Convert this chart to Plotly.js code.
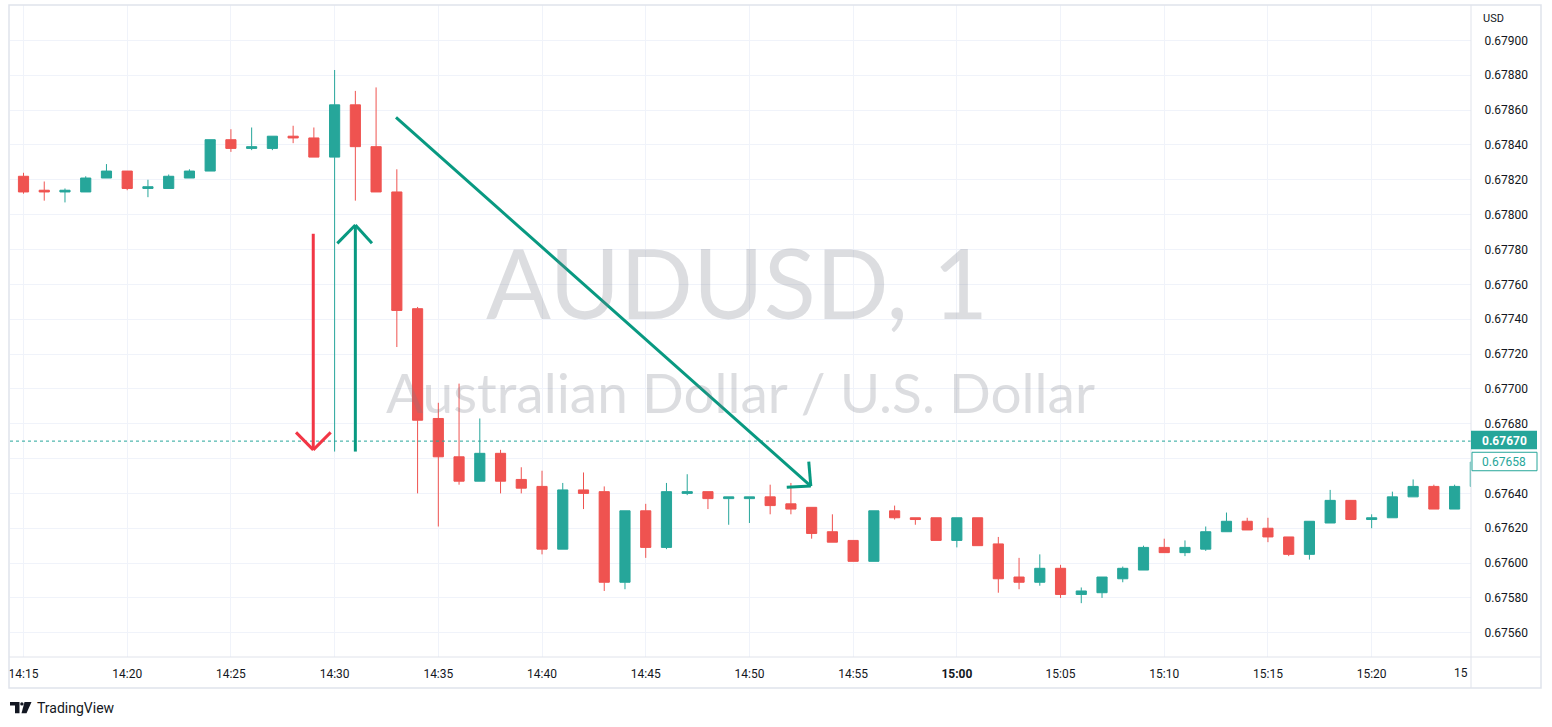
<!DOCTYPE html>
<html>
<head>
<meta charset="utf-8">
<script src="https://cdn.plot.ly/plotly-3.0.1.min.js"></script>
<style>html,body{margin:0;padding:0;background:#fff;}#chart{width:1552px;height:727px;}</style>
</head>
<body>
<div id="chart"></div>
<script>
// ---------- data (AUDUSD, 1 minute) ----------
const DAY = '2023-06-01';
const times = ['14:14','14:15','14:16','14:17','14:18','14:19','14:20','14:21','14:22','14:23',
  '14:24','14:25','14:26','14:27','14:28','14:29','14:30','14:31','14:32','14:33',
  '14:34','14:35','14:36','14:37','14:38','14:39','14:40','14:41','14:42','14:43',
  '14:44','14:45','14:46','14:47','14:48','14:49','14:50','14:51','14:52','14:53',
  '14:54','14:55','14:56','14:57','14:58','14:59','15:00','15:01','15:02','15:03',
  '15:04','15:05','15:06','15:07','15:08','15:09','15:10','15:11','15:12','15:13',
  '15:14','15:15','15:16','15:17','15:18','15:19','15:20','15:21','15:22','15:23',
  '15:24','15:25'];
const open = [0.67824,0.67822,0.67814,0.67813,0.67813,0.67821,0.67825,0.67815,0.67815,0.67821,
  0.67825,0.67843,0.67838,0.67838,0.67845,0.67844,0.67833,0.67863,0.67839,0.67813,
  0.67746,0.67683,0.67661,0.67647,0.67663,0.67648,0.67644,0.67608,0.67642,0.67641,
  0.67589,0.67630,0.67609,0.67640,0.67641,0.67637,0.67637,0.67638,0.67634,0.67632,
  0.67618,0.67613,0.67601,0.67630,0.67626,0.67626,0.67613,0.67626,0.67611,0.67592,
  0.67589,0.67597,0.67582,0.67583,0.67591,0.67596,0.67609,0.67606,0.67608,0.67618,
  0.67624,0.67620,0.67615,0.67605,0.67623,0.67636,0.67625,0.67626,0.67638,0.67644,
  0.67631,0.67644];
const high = [0.67824,0.67824,0.67819,0.67815,0.67822,0.67829,0.67825,0.67820,0.67823,0.67826,
  0.67843,0.67849,0.67850,0.67845,0.67851,0.67850,0.67883,0.67871,0.67873,0.67826,
  0.67747,0.67692,0.67703,0.67683,0.67665,0.67655,0.67653,0.67646,0.67652,0.67644,
  0.67630,0.67634,0.67646,0.67651,0.67641,0.67638,0.67638,0.67645,0.67646,0.67632,
  0.67628,0.67613,0.67630,0.67633,0.67626,0.67626,0.67626,0.67626,0.67615,0.67603,
  0.67605,0.67599,0.67586,0.67592,0.67598,0.67610,0.67614,0.67613,0.67621,0.67629,
  0.67626,0.67626,0.67615,0.67624,0.67642,0.67636,0.67628,0.67641,0.67648,0.67645,
  0.67645,0.67658];
const low = [0.67821,0.67812,0.67808,0.67807,0.67813,0.67821,0.67814,0.67810,0.67815,0.67821,
  0.67825,0.67836,0.67837,0.67837,0.67841,0.67833,0.67664,0.67808,0.67813,0.67724,
  0.67640,0.67621,0.67645,0.67647,0.67640,0.67640,0.67605,0.67608,0.67631,0.67584,
  0.67585,0.67603,0.67608,0.67639,0.67631,0.67622,0.67623,0.67628,0.67628,0.67614,
  0.67612,0.67601,0.67601,0.67625,0.67622,0.67613,0.67609,0.67610,0.67583,0.67585,
  0.67587,0.67580,0.67577,0.67580,0.67589,0.67596,0.67606,0.67604,0.67607,0.67618,
  0.67619,0.67612,0.67604,0.67602,0.67623,0.67625,0.67620,0.67626,0.67638,0.67631,
  0.67631,0.67644];
const close = [0.67821,0.67813,0.67813,0.67814,0.67821,0.67825,0.67815,0.67816,0.67822,0.67825,
  0.67843,0.67838,0.67839,0.67845,0.67844,0.67833,0.67863,0.67839,0.67813,0.67745,
  0.67682,0.67661,0.67647,0.67663,0.67647,0.67643,0.67608,0.67642,0.67640,0.67589,
  0.67630,0.67609,0.67641,0.67641,0.67637,0.67638,0.67638,0.67633,0.67631,0.67617,
  0.67612,0.67601,0.67630,0.67626,0.67625,0.67613,0.67626,0.67610,0.67591,0.67589,
  0.67597,0.67582,0.67584,0.67592,0.67597,0.67609,0.67606,0.67609,0.67618,0.67624,
  0.67619,0.67615,0.67605,0.67624,0.67636,0.67625,0.67626,0.67638,0.67644,0.67631,
  0.67644,0.67658];

// axis ticks
const xTickTimes = ['14:15','14:20','14:25','14:30','14:35','14:40','14:45','14:50','14:55','15:00','15:05','15:10','15:15','15:20'];
const xTickLabels = ['14:15','14:20','14:25','14:30','14:35','14:40','14:45','14:50','14:55','<b>15:00</b>','15:05','15:10','15:15','15:20'];
const yTickVals = [0.67560,0.67580,0.67600,0.67620,0.67640,0.67660,0.67680,0.67700,0.67720,0.67740,0.67760,0.67780,0.67800,0.67820,0.67840,0.67860,0.67880,0.67900];
// 0.67660 is hidden behind the last-price label in the reference
const yTickLabels = ['0.67560','0.67580','0.67600','0.67620','0.67640','','0.67680','0.67700','0.67720','0.67740','0.67760','0.67780','0.67800','0.67820','0.67840','0.67860','0.67880','0.67900'];

// price markers
const markedPrice = 0.67670;   // dotted line + filled label
const lastPrice = 0.67658;     // outlined label

// drawings: [minutes after 14:15, price]
const redArrowShaft = [[13.97,0.67789],[13.97,0.67665]];
const redArrowHead  = [[13.14,0.67675],[13.97,0.67665],[14.81,0.67675]];
const upArrowShaft  = [[16.0,0.67664],[16.0,0.67794]];
const upArrowHead   = [[15.13,0.677835],[16.0,0.67794],[16.8,0.677835]];
const diagShaft     = [[17.96,0.678558],[37.96,0.676442]];
const diagHead      = [[37.86,0.676582],[37.96,0.676442],[36.80,0.676435]];

// ---------- helpers ----------
const TEAL = '#26a69a', RED = '#ef5350';
const W = 1552, H = 727, ML = 10, MR = 81, MT = 5, MB = 70;
const PW = W - ML - MR, PH = H - MT - MB;
const px = v => (v - ML) / PW;
const py = v => (H - MB - v) / PH;
function tm(min) {
  const base = Date.UTC(2023, 5, 1, 14, 15, 0);
  return new Date(base + Math.round(min * 60000)).toISOString().replace('T', ' ').replace('Z', '');
}
const xs = times.map(t => DAY + ' ' + t);

const shapes = [];
function poly(pts, color, width) {
  for (let i = 0; i < pts.length - 1; i++) {
    shapes.push({type: 'line', xref: 'x', yref: 'y',
      x0: tm(pts[i][0]), y0: pts[i][1], x1: tm(pts[i + 1][0]), y1: pts[i + 1][1],
      line: {color: color, width: width}});
  }
}
// dotted price line
shapes.push({type: 'line', xref: 'paper', yref: 'y', x0: 0, x1: 1, y0: markedPrice, y1: markedPrice,
  line: {color: TEAL, width: 1, dash: 'dot'}});
poly(redArrowShaft, '#f23645', 3);
poly(redArrowHead, '#f23645', 3);
poly(upArrowShaft, '#089981', 3);
poly(upArrowHead, '#089981', 3);
poly(diagShaft, '#089981', 3);
poly(diagHead, '#089981', 3);

// frame
const FR = '#e0e3eb';
shapes.push({type: 'rect', xref: 'paper', yref: 'paper', x0: px(9), x1: px(1541), y0: py(688), y1: py(5), line: {color: FR, width: 1.5}});
shapes.push({type: 'line', xref: 'paper', yref: 'paper', x0: px(1471), x1: px(1471), y0: py(688), y1: py(5), line: {color: FR, width: 1}});
shapes.push({type: 'line', xref: 'paper', yref: 'paper', x0: px(9), x1: px(1541), y0: py(657), y1: py(657), line: {color: FR, width: 1}});

// price labels on the scale
shapes.push({type: 'rect', xref: 'paper', yref: 'y', x0: px(1471), x1: px(1537), y0: 0.676653, y1: 0.676760,
  fillcolor: TEAL, line: {width: 0}, layer: 'above'});
shapes.push({type: 'rect', xref: 'paper', yref: 'y', x0: px(1472), x1: px(1537), y0: 0.676530, y1: 0.676636,
  fillcolor: '#ffffff', line: {color: TEAL, width: 1}, layer: 'above'});

// TradingView logo
const logoC = '#131722';
const P = (x, y) => px(x) + ',' + py(y);
shapes.push({type: 'path', xref: 'paper', yref: 'paper', fillcolor: logoC, line: {width: 0},
  path: 'M' + P(10, 702) + ' L' + P(19.5, 702) + ' L' + P(19.5, 713.3) + ' L' + P(15, 713.3) + ' L' + P(15, 705.6) + ' L' + P(10, 705.6) + ' Z'});
shapes.push({type: 'circle', xref: 'paper', yref: 'paper', fillcolor: logoC, line: {width: 0},
  x0: px(20.2), x1: px(23.6), y0: py(705.6), y1: py(702.2)});
shapes.push({type: 'path', xref: 'paper', yref: 'paper', fillcolor: logoC, line: {width: 0},
  path: 'M' + P(24.5, 702) + ' L' + P(31.5, 702) + ' L' + P(26.5, 713.3) + ' L' + P(21.5, 713.3) + ' Z'});

const FONT = 'Roboto, "Open Sans", sans-serif';
const WM = 'rgba(120,123,134,0.26)';
const annotations = [
  {xref: 'paper', yref: 'paper', x: px(737), y: py(281), text: 'AUDUSD, 1', showarrow: false,
    font: {family: 'Lato, "Open Sans", sans-serif', size: 96, color: WM}, xanchor: 'center', yanchor: 'middle'},
  {xref: 'paper', yref: 'paper', x: px(740), y: py(392), text: 'Australian Dollar / U.S. Dollar', showarrow: false,
    font: {family: 'Lato, "Open Sans", sans-serif', size: 55, color: WM}, xanchor: 'center', yanchor: 'middle'},
  {xref: 'paper', yref: 'paper', x: px(1481), y: py(19), text: 'USD', showarrow: false,
    font: {family: FONT, size: 11, color: '#131722'}, xanchor: 'left', yanchor: 'middle'},
  {xref: 'paper', yref: 'y', x: px(1504), y: markedPrice, text: '<b>' + markedPrice.toFixed(5) + '</b>', showarrow: false,
    font: {family: FONT, size: 12, color: '#ffffff'}, xanchor: 'center', yanchor: 'middle'},
  {xref: 'paper', yref: 'y', x: px(1504), y: lastPrice, text: lastPrice.toFixed(5), showarrow: false,
    font: {family: FONT, size: 12, color: TEAL}, xanchor: 'center', yanchor: 'middle'},
  {xref: 'paper', yref: 'paper', x: px(1470), y: py(673), text: '15', showarrow: false,
    font: {family: FONT, size: 12, color: '#131722'}, xanchor: 'right', yanchor: 'middle'},
  {xref: 'paper', yref: 'paper', x: px(35), y: py(708), text: 'TradingView', showarrow: false,
    font: {family: FONT, size: 14, color: '#131722'}, xanchor: 'left', yanchor: 'middle'}
];

const trace = {
  type: 'candlestick', x: xs, open: open, high: high, low: low, close: close,
  increasing: {line: {color: TEAL, width: 1}, fillcolor: TEAL},
  decreasing: {line: {color: RED, width: 1}, fillcolor: RED},
  whiskerwidth: 0, hoverinfo: 'skip', showlegend: false
};

const layout = {
  width: W, height: H,
  margin: {l: ML, r: MR, t: MT, b: MB, pad: 0},
  paper_bgcolor: '#ffffff', plot_bgcolor: '#ffffff',
  showlegend: false,
  font: {family: FONT, size: 12, color: '#131722'},
  xaxis: {
    type: 'date', range: [tm(-0.6509), tm(69.79)],
    tickvals: xTickTimes.map(t => DAY + ' ' + t), ticktext: xTickLabels,
    showgrid: true, gridcolor: '#f0f3fa', gridwidth: 1,
    zeroline: false, showline: false, ticks: 'outside', ticklen: 6, tickcolor: 'rgba(0,0,0,0)',
    tickfont: {family: FONT, size: 12, color: '#131722'},
    rangeslider: {visible: false}, fixedrange: true
  },
  yaxis: {
    side: 'right', range: [0.675461, 0.679203],
    tickvals: yTickVals, ticktext: yTickLabels,
    showgrid: true, gridcolor: '#f0f3fa', gridwidth: 1,
    zeroline: false, showline: false, ticks: 'outside', ticklen: 10, tickcolor: 'rgba(0,0,0,0)',
    tickfont: {family: FONT, size: 12, color: '#131722'}, fixedrange: true
  },
  shapes: shapes,
  annotations: annotations
};

Plotly.newPlot('chart', [trace], layout, {displayModeBar: false, staticPlot: true});
</script>
</body>
</html>
